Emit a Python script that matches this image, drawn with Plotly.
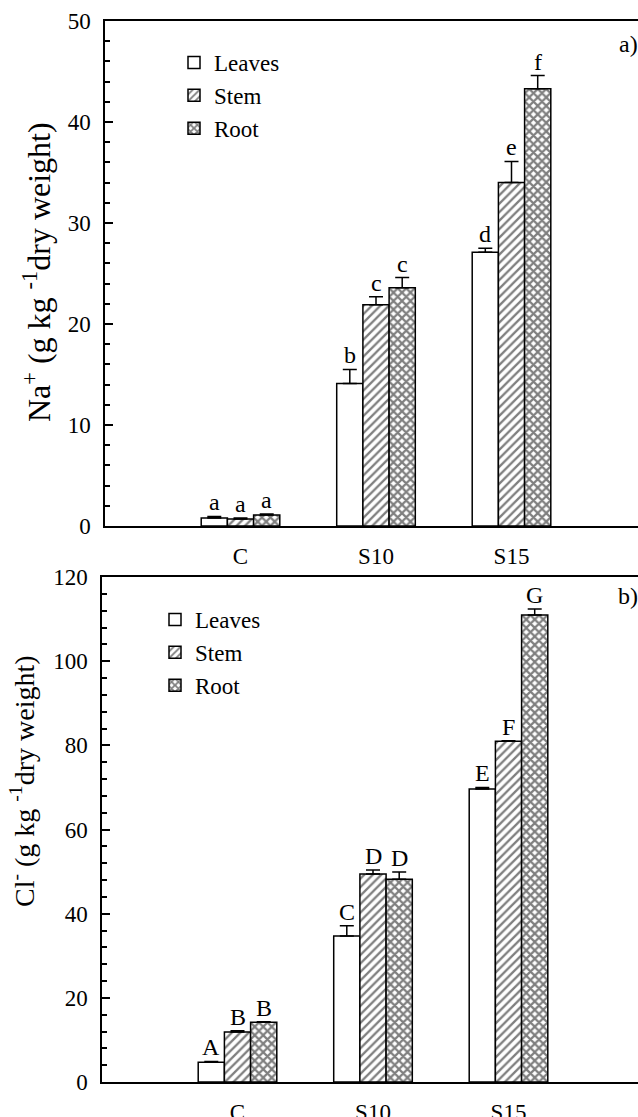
import plotly.graph_objects as go

# ---------------- data ----------------
categories = ["C", "S10", "S15"]
series_names = ["Leaves", "Stem", "Root"]

na_leaves = [0.8, 14.1, 27.1]
na_stem = [0.7, 21.9, 34.0]
na_root = [1.1, 23.6, 43.3]
na_leaves_err = [0.15, 1.4, 0.4]
na_stem_err = [0.1, 0.8, 2.1]
na_root_err = [0.1, 1.0, 1.3]
na_letters = [["a", "b", "d"], ["a", "c", "e"], ["a", "c", "f"]]

cl_leaves = [4.7, 34.7, 69.6]
cl_stem = [11.9, 49.4, 81.0]
cl_root = [14.2, 48.2, 111.0]
cl_leaves_err = [0.2, 2.4, 0.4]
cl_stem_err = [0.3, 1.0, 0.1]
cl_root_err = [0.1, 1.7, 1.4]
cl_letters = [["A", "C", "E"], ["B", "D", "F"], ["B", "D", "G"]]

# ---------------- style ----------------
FONT = "Liberation Serif, Times New Roman, serif"
W, H = 638, 1117


def fx(px):  # screen x -> paper fraction
    return px / W


def fy(py):  # screen y -> paper fraction
    return 1 - py / H


BARGAP = 0.42
patterns = [dict(shape=""),
            dict(shape="/", size=6, solidity=0.38, fgcolor="black", bgcolor="white"),
            dict(shape="x", size=6, solidity=0.6, fgcolor="black", bgcolor="white")]

fig = go.Figure()

panels = [
    dict(vals=[na_leaves, na_stem, na_root], errs=[na_leaves_err, na_stem_err, na_root_err],
         letters=na_letters, xa="x", ya="y", legend="legend"),
    dict(vals=[cl_leaves, cl_stem, cl_root], errs=[cl_leaves_err, cl_stem_err, cl_root_err],
         letters=cl_letters, xa="x2", ya="y2", legend="legend2"),
]

bar_w = (1 - BARGAP) / 3
annotations = []
for p in panels:
    for i, name in enumerate(series_names):
        fig.add_trace(go.Bar(
            x=categories, y=p["vals"][i], name=name,
            xaxis=p["xa"], yaxis=p["ya"], legend=p["legend"],
            marker=dict(color="white", line=dict(color="black", width=1.5), pattern=patterns[i]),
            error_y=dict(type="data", symmetric=False, array=p["errs"][i], arrayminus=[0] * 3,
                         color="black", thickness=1.5, width=7),
        ))
        for j, cat in enumerate(categories):
            annotations.append(dict(
                x=j + (i - 1) * bar_w, y=p["vals"][i][j] + p["errs"][i][j],
                xref=p["xa"], yref=p["ya"], text=p["letters"][i][j], showarrow=False,
                xanchor="center", yanchor="bottom", yshift=-1,
                font=dict(family=FONT, size=24, color="black")))

# panel labels and y titles
annotations += [
    dict(x=fx(640), y=fy(44), xref="paper", yref="paper", text="a)", showarrow=False,
         xanchor="right", yanchor="middle", font=dict(family=FONT, size=24, color="black")),
    dict(x=fx(640), y=fy(596), xref="paper", yref="paper", text="b)", showarrow=False,
         xanchor="right", yanchor="middle", font=dict(family=FONT, size=24, color="black")),
    dict(x=fx(37), y=fy(272), xref="paper", yref="paper", textangle=-90, showarrow=False,
         xanchor="center", yanchor="middle",
         text="Na<sup>+</sup> (g kg <sup>-1</sup>dry weight)", font=dict(family=FONT, size=32, color="black")),
    dict(x=fx(22), y=fy(781), xref="paper", yref="paper", textangle=-90, showarrow=False,
         xanchor="center", yanchor="middle",
         text="Cl<sup>-</sup> (g kg <sup>-1</sup>dry weight)", font=dict(family=FONT, size=28, color="black")),
]

spacing = 135.5  # px per category
xa_common = dict(type="category", showline=True, mirror=True, linecolor="black", linewidth=1.5,
                 ticks="", showgrid=False, zeroline=False, ticklabelstandoff=9, automargin=False,
                 tickfont=dict(family=FONT, size=23, color="black"))
ya_common = dict(showline=True, mirror=False, linecolor="black", linewidth=1.5, ticks="inside",
                 ticklen=8, tickwidth=1.5, tickcolor="black", showgrid=False, zeroline=False,
                 ticklabelstandoff=8, automargin=False, tickfont=dict(family=FONT, size=23, color="black"))

fig.update_layout(
    width=W, height=H, margin=dict(l=0, r=0, t=0, b=0, autoexpand=False),
    paper_bgcolor="white", plot_bgcolor="white",
    barmode="group", bargap=BARGAP, bargroupgap=0,
    font=dict(family=FONT, color="black"),
    xaxis=dict(**xa_common, domain=[fx(105), 1], anchor="y",
               range=[-1, -1 + (638 - 105) / spacing]),
    yaxis=dict(**ya_common, domain=[fy(526), fy(21)], anchor="x", range=[0, 50], dtick=10,
               minor=dict(dtick=2, ticks="inside", ticklen=5, tickwidth=1.5, tickcolor="black")),
    xaxis2=dict(**xa_common, domain=[fx(102), 1], anchor="y2",
                range=[-1, -1 + (638 - 102) / spacing]),
    yaxis2=dict(**ya_common, domain=[fy(1082), fy(577)], anchor="x2", range=[0, 120], dtick=20,
                minor=dict(dtick=4, ticks="inside", ticklen=5, tickwidth=1.5, tickcolor="black")),
    legend=dict(x=fx(174), y=fy(41), xanchor="left", yanchor="top", bgcolor="rgba(0,0,0,0)",
                font=dict(family=FONT, size=23, color="black"), tracegroupgap=0),
    legend2=dict(x=fx(155), y=fy(598), xanchor="left", yanchor="top", bgcolor="rgba(0,0,0,0)",
                 font=dict(family=FONT, size=23, color="black"), tracegroupgap=0),
    annotations=annotations,
    showlegend=True,
)

fig.write_html(
    "out.html",
    config={"displayModeBar": False},
    post_script="document.body.style.margin='0px';document.body.style.overflow='hidden';",
)
